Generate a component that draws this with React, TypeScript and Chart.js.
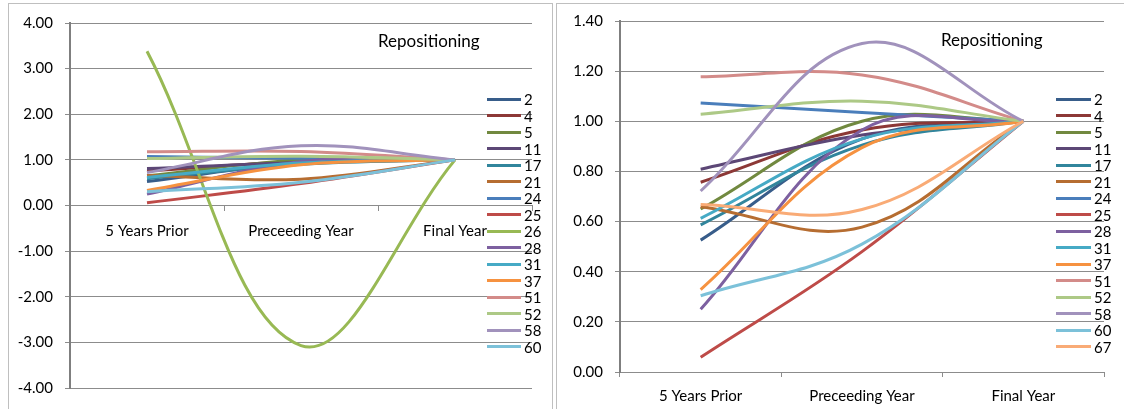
import React, { useEffect, useRef } from 'react';
import { Chart, registerables } from 'chart.js';

Chart.register(...registerables);

// ---------- DATA ----------
const categories = ['5 Years Prior', 'Preceeding Year', 'Final Year'];

const s2 = [0.526, 0.93, 1.0];
const s4 = [0.757, 0.965, 1.0];
const s5 = [0.65, 1.0, 1.0];
const s11 = [0.809, 0.945, 1.0];
const s17 = [0.587, 0.905, 1.0];
const s21 = [0.659, 0.578, 1.0];
const s24 = [1.073, 1.035, 1.0];
const s25 = [0.059, 0.48, 1.0];
const s26 = [3.38, -3.07, 1.0];
const s28 = [0.25, 0.965, 1.0];
const s31 = [0.613, 0.93, 1.0];
const s37 = [0.329, 0.895, 1.0];
const s51 = [1.178, 1.185, 1.0];
const s52 = [1.028, 1.08, 1.0];
const s58 = [0.722, 1.31, 1.0];
const s60 = [0.304, 0.51, 1.0];
const s67 = [0.668, 0.648, 1.0];

const leftSeriesNames = ['2', '4', '5', '11', '17', '21', '24', '25', '26', '28', '31', '37', '51', '52', '58', '60'];
const rightSeriesNames = ['2', '4', '5', '11', '17', '21', '24', '25', '28', '31', '37', '51', '52', '58', '60', '67'];

const leftYTicks = { min: -4, max: 4, step: 1 };
const rightYTicks = { min: 0, max: 1.4, step: 0.2 };

const chartTitle = 'Repositioning';

// lookup table built from the arrays above
const seriesValues: Record<string, number[]> = {
  '2': s2, '4': s4, '5': s5, '11': s11, '17': s17, '21': s21, '24': s24, '25': s25,
  '26': s26, '28': s28, '31': s31, '37': s37, '51': s51, '52': s52, '58': s58, '60': s60, '67': s67,
};

// ---------- STYLES ----------
const seriesColors: Record<string, string> = {
  '2': '#385D8A',
  '4': '#8C3836',
  '5': '#71893F',
  '11': '#5C4776',
  '17': '#31859C',
  '21': '#B66D31',
  '24': '#4A7EBB',
  '25': '#BE4B48',
  '26': '#98B954',
  '28': '#7D60A0',
  '31': '#46AAC5',
  '37': '#F69240',
  '51': '#D38B89',
  '52': '#ADC986',
  '58': '#A192BC',
  '60': '#7CC1D9',
  '67': '#F9AB76',
};

const FONT = 'Lato, "Open Sans", sans-serif';
const FS = 15;
const GRID = '#8C8C8C';
const AXIS = '#7F7F7F';
const TEXT = '#000000';

type PanelProps = {
  names: string[];
  yMin: number;
  yMax: number;
  step: number;
  xAtZero: boolean;
  left: number;
  width: number;
  height: number;
  padTop: number;
  padRight: number;
  padBottom: number;
  yAxisWidth: number;
  xAxisHeight: number;
  xTickPadding: number;
};

function Panel(p: PanelProps) {
  const ref = useRef<HTMLCanvasElement | null>(null);
  useEffect(() => {
    let chart: Chart | null = null;
    let cancelled = false;
    const build = () => {
      if (cancelled || !ref.current) return;
      const n = p.names.length;
      const datasets = p.names.map((name, i) => ({
        label: name,
        data: seriesValues[name],
        borderColor: seriesColors[name],
        backgroundColor: seriesColors[name],
        borderWidth: 3,
        pointRadius: 0,
        pointHoverRadius: 0,
        tension: 0.38,
        fill: false,
        order: n - i,
      }));
      const xScale: any = {
        type: 'category',
        offset: true,
        grid: { offset: true, drawOnChartArea: false, drawTicks: true, tickLength: 5, color: GRID, lineWidth: 1 },
        border: { display: true, color: GRID, width: 1 },
        ticks: {
          padding: p.xTickPadding,
          color: TEXT,
          font: { family: FONT, size: FS },
          maxRotation: 0,
          autoSkip: false,
        },
      };
      if (p.xAtZero) {
        xScale.position = { y: 0 };
      } else {
        xScale.position = 'bottom';
        xScale.afterFit = (s: any) => { s.height = p.xAxisHeight; };
      }
      chart = new Chart(ref.current, {
        type: 'line',
        data: { labels: categories, datasets },
        options: {
          responsive: false,
          animation: false,
          devicePixelRatio: 1,
          layout: { padding: { top: p.padTop, right: p.padRight, bottom: p.padBottom, left: 0 } },
          plugins: { legend: { display: false }, tooltip: { enabled: false }, title: { display: false } },
          elements: { line: { capBezierPoints: false } },
          scales: {
            x: xScale,
            y: {
              type: 'linear',
              min: p.yMin,
              max: p.yMax,
              afterFit: (s: any) => { s.width = p.yAxisWidth; },
              grid: { color: GRID, lineWidth: 1, tickLength: 5, drawTicks: true },
              border: { display: true, color: AXIS, width: 2 },
              ticks: {
                stepSize: p.step,
                padding: 12,
                color: TEXT,
                font: { family: FONT, size: FS },
                callback: (v: any) => Number(v).toFixed(2),
              },
            },
          },
        },
      });
    };
    const fontsApi: any = (document as any).fonts;
    if (fontsApi && fontsApi.load) {
      fontsApi.load(`${FS}px Lato`).then(build, build);
    } else {
      build();
    }
    return () => {
      cancelled = true;
      if (chart) chart.destroy();
    };
  }, []);
  return (
    <canvas
      ref={ref}
      width={p.width}
      height={p.height}
      style={{ position: 'absolute', left: p.left, top: 0, width: p.width, height: p.height }}
    />
  );
}

function Legend({ names, lineLeft, lineWidth, top, rowH }: { names: string[]; lineLeft: number; lineWidth: number; top: number; rowH: number }) {
  return (
    <>
      {names.map((name, i) => (
        <div
          key={name}
          style={{
            position: 'absolute',
            left: lineLeft,
            top: top + i * rowH - rowH / 2,
            height: rowH,
            display: 'flex',
            alignItems: 'center',
            font: `${FS}px ${FONT}`,
            color: TEXT,
            whiteSpace: 'nowrap',
          }}
        >
          <span style={{ display: 'inline-block', width: lineWidth, height: 3, background: seriesColors[name], marginRight: 3 }} />
          <span>{name}</span>
        </div>
      ))}
    </>
  );
}

function Title({ left, top }: { left: number; top: number }) {
  return (
    <div style={{ position: 'absolute', left, top, font: `17px ${FONT}`, color: TEXT, whiteSpace: 'nowrap', lineHeight: '20px' }}>
      {chartTitle}
    </div>
  );
}

export default function App() {
  return (
    <div style={{ position: 'absolute', left: 0, top: 0, width: 1124, height: 409, overflow: 'hidden', background: '#fff' }}>
      {/* chart frames */}
      <div style={{ position: 'absolute', left: 8, top: 3, width: 543, height: 420, border: '1px solid #BFBFBF' }} />
      <div style={{ position: 'absolute', left: 556, top: 3, width: 580, height: 420, border: '1px solid #BFBFBF', borderRight: 'none' }} />

      <Panel
        names={leftSeriesNames}
        yMin={leftYTicks.min}
        yMax={leftYTicks.max}
        step={leftYTicks.step}
        xAtZero={true}
        left={0}
        width={553}
        height={409}
        padTop={23}
        padRight={21}
        padBottom={18}
        yAxisWidth={70}
        xAxisHeight={0}
        xTickPadding={12}
      />
      <Panel
        names={rightSeriesNames}
        yMin={rightYTicks.min}
        yMax={rightYTicks.max}
        step={rightYTicks.step}
        xAtZero={false}
        left={555}
        width={569}
        height={409}
        padTop={13}
        padRight={20}
        padBottom={0}
        yAxisWidth={65}
        xAxisHeight={37}
        xTickPadding={10}
      />

      <Title left={378} top={31} />
      <Title left={941} top={30} />
      <Legend names={leftSeriesNames} lineLeft={487} lineWidth={34} top={99} rowH={16.5} />
      <Legend names={rightSeriesNames} lineLeft={1056} lineWidth={35} top={99} rowH={16.5} />
    </div>
  );
}
